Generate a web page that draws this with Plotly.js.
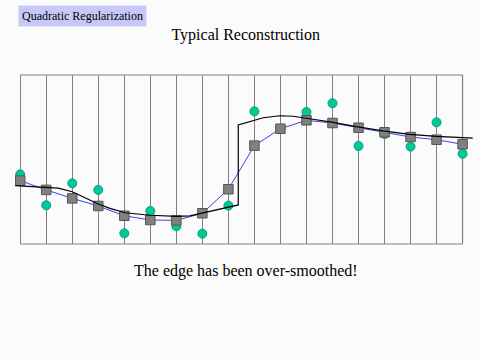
<!DOCTYPE html>
<html>
<head>
<meta charset="utf-8">
<script src="https://cdn.plot.ly/plotly-3.0.1.min.js"></script>
<style>html,body{margin:0;padding:0;background:#fbfbfb;}#chart{width:480px;height:360px;}</style>
</head>
<body>
<div id="chart"></div>
<script>
// sample positions
const samples = [0,1,2,3,4,5,6,7,8,9,10,11,12,13,14,15,16,17];
// noisy measurements (green circles)
const measured = [4.12,2.29,3.59,3.20,0.63,1.95,1.05,0.61,2.27,7.85,6.82,7.81,8.33,5.80,6.51,5.76,7.20,5.34];
// quadratic-regularized reconstruction (grey squares)
const reconstructed = [3.75,3.20,2.70,2.25,1.67,1.42,1.40,1.82,3.24,5.82,6.82,7.32,7.16,6.88,6.61,6.33,6.17,5.90];
// true signal (black curve)
const trueX = [-0.19,1.15,1.46,2.00,2.56,3.00,3.45,4.03,4.99,6.01,6.52,7.01,7.99,8.38,8.38,8.83,9.34,9.98,10.49,11.00,11.51,12.02,12.92,13.94,14.97,15.99,17.39];
const trueY = [3.45,3.36,3.31,3.09,2.70,2.37,2.11,1.85,1.70,1.64,1.66,1.82,2.15,2.31,7.04,7.24,7.47,7.59,7.56,7.44,7.34,7.20,6.94,6.69,6.49,6.37,6.27];

const titleText = 'Typical Reconstruction';
const captionText = 'The edge has been over-smoothed!';
const labelText = 'Quadratic Regularization';

const serifFont = 'Liberation Serif';

const traces = [
  {x: samples, y: measured, mode: 'markers', type: 'scatter',
   marker: {symbol: 'circle', size: 9, color: '#00c896', line: {color: '#08a07a', width: 1}},
   hoverinfo: 'skip', showlegend: false},
  {x: samples, y: reconstructed, mode: 'lines+markers', type: 'scatter',
   line: {color: '#4040e8', width: 1},
   marker: {symbol: 'square', size: 9.5, color: '#808080', line: {color: '#555555', width: 1}},
   hoverinfo: 'skip', showlegend: false},
  {x: trueX, y: trueY, mode: 'lines', type: 'scatter', cliponaxis: false,
   line: {color: '#000000', width: 1.2},
   hoverinfo: 'skip', showlegend: false}
];

const layout = {
  width: 480, height: 360,
  paper_bgcolor: '#fbfbfb', plot_bgcolor: '#fbfbfb',
  margin: {l: 15, r: 7, t: 75, b: 116},
  title: {text: titleText, font: {family: serifFont, size: 16, color: '#000'}, x: 0.512, xanchor: 'center', y: 0.905, yanchor: 'middle'},
  xaxis: {range: [-0.2, 17.4], tick0: 0, dtick: 1, showticklabels: false, ticks: '',
          showgrid: true, gridcolor: '#808080', gridwidth: 1, zeroline: false, showline: false},
  yaxis: {range: [0, 10], showticklabels: false, ticks: '', showgrid: false, zeroline: false, showline: false},
  shapes: [
    {type: 'line', xref: 'x', yref: 'paper', x0: 0, x1: 17, y0: 0, y1: 0, line: {color: '#808080', width: 1.2}, layer: 'below'},
    {type: 'line', xref: 'x', yref: 'paper', x0: 0, x1: 17, y0: 1, y1: 1, line: {color: '#808080', width: 1.2}, layer: 'below'},
    {type: 'line', xref: 'x', yref: 'paper', x0: 17, x1: 17, y0: 0, y1: 1, line: {color: '#c8c8c8', width: 1.5}, layer: 'below'}
  ],
  annotations: [
    {text: labelText, xref: 'paper', yref: 'paper', x: 0.007, xanchor: 'left', y: 1.352, yanchor: 'middle',
     showarrow: false, bgcolor: '#c8c8f8', borderpad: 3,
     font: {family: serifFont, size: 12, color: '#000'}},
    {text: captionText, xref: 'paper', yref: 'paper', x: 0.505, xanchor: 'center', y: -0.16, yanchor: 'middle',
     showarrow: false, font: {family: serifFont, size: 16, color: '#000'}}
  ]
};

Plotly.newPlot('chart', traces, layout, {displayModeBar: false, staticPlot: true});
</script>
</body>
</html>
